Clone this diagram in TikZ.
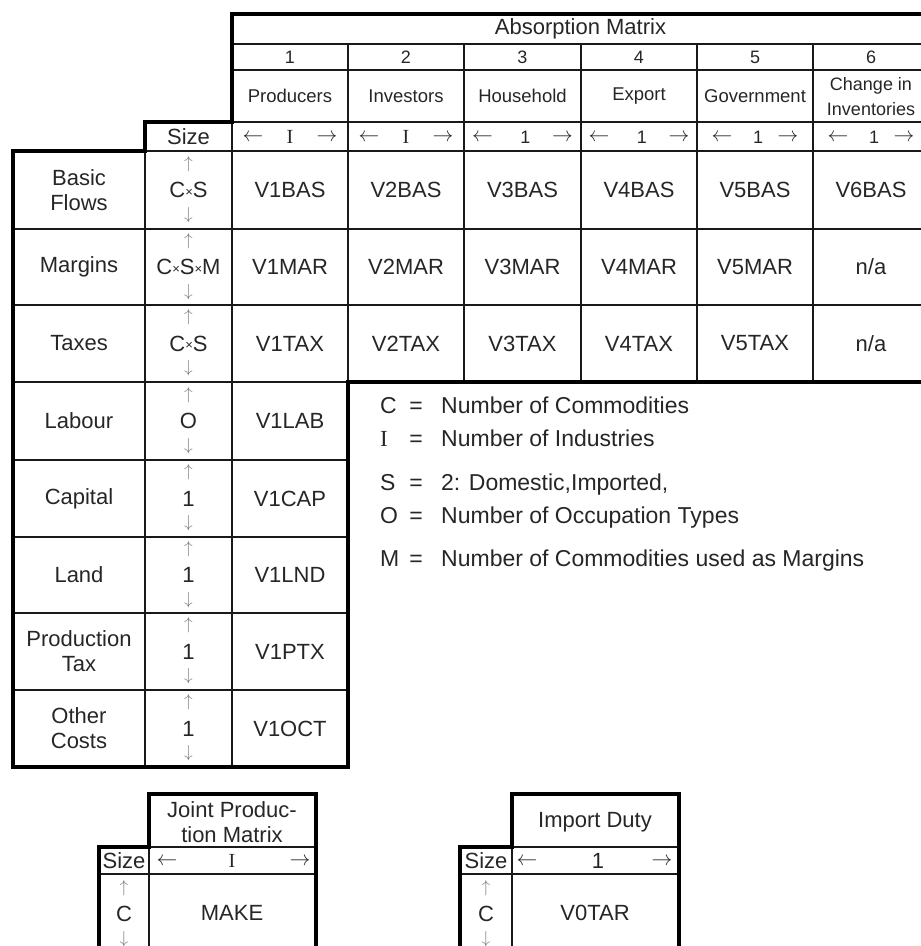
\documentclass[tikz,border=0pt]{standalone}
\usepackage{fontspec}
\setmainfont{Liberation Sans}
\newfontfamily\romanI{Liberation Serif}
\definecolor{ink}{RGB}{38,38,38}
\definecolor{rule}{RGB}{25,25,25}
\definecolor{pale}{RGB}{125,125,125}
\newcommand\smalltimes{{\fontsize{13}{13}\selectfont\raisebox{1.5pt}{×}}}
\newcommand\indI{{\romanI I}}
\begin{document}
\begin{tikzpicture}[x=1pt,y=-1pt,
  heavy/.style={line width=4pt,draw=black,line join=miter},
  light/.style={line width=1.3pt,draw=rule},
  lbl/.style={text=ink,inner sep=0pt,align=center,font=\fontsize{22}{25}\selectfont},
  hdr/.style={lbl,font=\fontsize{18.5}{25}\selectfont},
  num/.style={lbl,font=\fontsize{18}{20}\selectfont},
  vert/.style={inner sep=0pt,text=pale,font=\fontsize{18}{20}\selectfont},
  horz/.style={inner sep=0pt,text=ink,font=\fontsize{20}{20}\selectfont},
  key/.style={text=ink,inner sep=0pt,anchor=base west,font=\fontsize{23}{26}\selectfont}]
\useasboundingbox (0,0) rectangle (921,946);

% ---------- absorption matrix: rules ----------
\foreach \y in {44,70,122} \draw[light] (232,\y) -- (929,\y);
\draw[light] (145,151) -- (929,151);
\foreach \y in {229,305} \draw[light] (13,\y) -- (929,\y);
\foreach \y in {382,460,537,613,690} \draw[light] (13,\y) -- (348,\y);
\draw[light] (145,151) -- (145,767);
\draw[light] (232,122) -- (232,767);
\foreach \x in {348,464,581,697,813} \draw[light] (\x,44) -- (\x,382);
\draw[heavy] (929,14) -- (232,14) -- (232,122) -- (145,122) -- (145,151)
  -- (13,151) -- (13,767) -- (348,767) -- (348,382) -- (929,382) -- cycle;

% ---------- column headings ----------
\node[lbl] (title) at (580.5,29) {Absorption Matrix};
\foreach \c/\x in {1/290,2/406,3/522.5,4/639,5/755,6/871}
  \node[num] (n\c) at (\x,57) {\c};
\node[hdr] (h1) at (290,96) {Producers};
\node[hdr] (h2) at (406,96) {Investors};
\node[hdr] (h3) at (522.5,96) {Household};
\node[hdr] (h4) at (639,96) {Export};
\node[hdr] (h5) at (755,96) {Government};
\node[hdr,font=\fontsize{18}{25}\selectfont] (h6) at (871,97) {Change in\\Inventories};

% ---------- size row ----------
\node[lbl] (size) at (188.5,137) {Size};
\foreach \c/\x in {1/290,2/406} {
  \node[horz] (sl\c) at (\x-37,138) {$\leftarrow$};
  \node[horz] (sm\c) at (\x,137) {\indI};
  \node[horz] (sr\c) at (\x+37,138) {$\rightarrow$};
}
\foreach \c/\x/\d in {3/522.5/40,4/639/40,5/755/33,6/871/33} {
  \node[horz] (sl\c) at (\x-\d,138) {$\leftarrow$};
  \node[num] (sm\c) at (\x+3,137) {1};
  \node[horz] (sr\c) at (\x+\d,138) {$\rightarrow$};
}

% ---------- row labels and dimensions ----------
\foreach \r/\y/\name/\dim in {
  1/190/{Basic\\Flows}/{C\smalltimes S},
  2/267/{Margins}/{C\smalltimes S\smalltimes M},
  3/343.5/{Taxes}/{C\smalltimes S},
  4/421/{Labour}/{O},
  5/498.5/{Capital}/{1},
  6/575/{Land}/{1},
  7/651.5/{Production\\Tax}/{1},
  8/728.5/{Other\\Costs}/{1}} {
  \node[lbl] (row\r) at (79,\y) {\name};
  \node[vert] (up\r) at (188.5,\y-26) {$\uparrow$};
  \node[lbl] (dim\r) at (188.5,\y) {\dim};
  \node[vert] (dn\r) at (188.5,\y+25) {$\downarrow$};
}

% ---------- matrix entries ----------
\foreach \c/\x in {1/290,2/406,3/522.5,4/639,5/755} {
  \node[lbl] (bas\c) at (\x,190) {V\c BAS};
  \node[lbl] (mar\c) at (\x,267) {V\c MAR};
  \node[lbl] (tax\c) at (\x,343.5) {V\c TAX};
}
\node[lbl] (bas6) at (871,190) {V6BAS};
\node[lbl] (mar6) at (871,267) {n/a};
\node[lbl] (tax6) at (871,343.5) {n/a};
\node[lbl] (lab) at (290,421) {V1LAB};
\node[lbl] (cap) at (290,498.5) {V1CAP};
\node[lbl] (lnd) at (290,575) {V1LND};
\node[lbl] (ptx) at (290,651.5) {V1PTX};
\node[lbl] (oct) at (290,728.5) {V1OCT};

% ---------- key ----------
\foreach \i/\y/\sym/\txt in {
  1/413/{C}/{Number of Commodities},
  2/446/{\indI}/{Number of Industries},
  3/490/{S}/{2: Domestic,Imported,},
  4/523/{O}/{Number of Occupation Types},
  5/566/{M}/{Number of Commodities used as Margins}} {
  \node[key] (ks\i) at (380,\y) {\sym};
  \node[key,anchor=base] (ke\i) at (416,\y) {=};
  \node[key] (kt\i) at (441,\y) {\txt};
}

% ---------- joint production matrix ----------
\draw[light] (149,847) -- (316,847);
\draw[light] (99,874) -- (316,874);
\draw[light] (149,847) -- (149,956);
\draw[heavy] (99,956) -- (99,847) -- (149,847) -- (149,794) -- (316,794) -- (316,956);
\node[lbl] (jpm) at (232,822) {Joint Produc-\\tion Matrix};
\node[lbl] (jsize) at (124,861) {Size};
\node[horz] (jl) at (167,862) {$\leftarrow$};
\node[horz] (jm) at (232,861) {\indI};
\node[horz] (jr) at (300,862) {$\rightarrow$};
\node[vert] (jup) at (124,888) {$\uparrow$};
\node[lbl] (jdim) at (124,914) {C};
\node[vert] (jdn) at (124,939) {$\downarrow$};
\node[lbl] (make) at (232,913) {MAKE};

% ---------- import duty ----------
\draw[light] (512,847) -- (679,847);
\draw[light] (460,874) -- (679,874);
\draw[light] (512,847) -- (512,956);
\draw[heavy] (460,956) -- (460,847) -- (512,847) -- (512,794) -- (679,794) -- (679,956);
\node[lbl] (duty) at (595,822) {Import Duty};
\node[lbl] (dsize) at (486,861) {Size};
\node[horz] (dl) at (527,862) {$\leftarrow$};
\node[lbl] (dm) at (598,861) {1};
\node[horz] (dr) at (662,862) {$\rightarrow$};
\node[vert] (dup) at (486,888) {$\uparrow$};
\node[lbl] (ddim) at (486,914) {C};
\node[vert] (ddn) at (486,939) {$\downarrow$};
\node[lbl] (votar) at (595,913) {V0TAR};
\end{tikzpicture}
\end{document}
